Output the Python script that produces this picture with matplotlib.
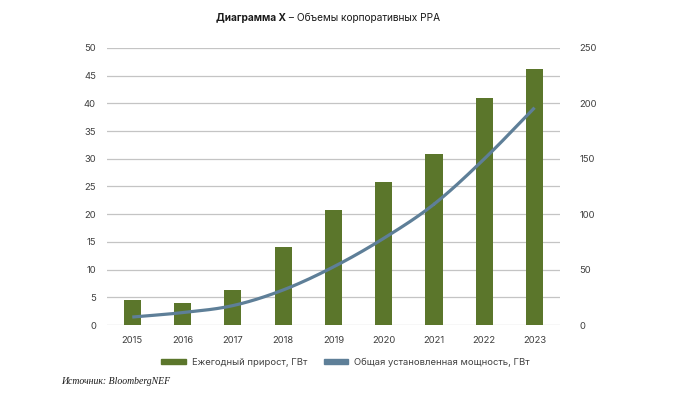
import numpy as np
import matplotlib.pyplot as plt
from matplotlib.patches import Patch

# data
years = ['2015', '2016', '2017', '2018', '2019', '2020', '2021', '2022', '2023']
annual = [4.5, 4.0, 6.3, 14.1, 20.8, 25.8, 30.8, 40.9, 46.2]
total = [7.2, 11.2, 17.5, 31.6, 52.4, 78.2, 109.0, 149.9, 196.1]

bar_color = '#5b762b'
line_color = '#5e7f98'
grid_color = '#c4c4c4'
text_color = '#404040'

plt.rcParams['font.family'] = ['Inter', 'DejaVu Sans']

fig = plt.figure(figsize=(6.91, 3.93), dpi=100)
ax = fig.add_axes([0.155, 0.173, 0.655, 0.705])
x = np.arange(len(years))
ax.bar(x, annual, width=0.34, color=bar_color, zorder=2)
ax.set_xlim(-0.5, len(years) - 0.5)
ax.set_ylim(0, 50)
ax.set_yticks(np.arange(0, 51, 5))
ax.set_xticks(x)
ax.set_xticklabels(years)
ax.grid(axis='y', color=grid_color, linewidth=0.9, zorder=0)
ax.set_axisbelow(True)
for s in ax.spines.values():
    s.set_visible(False)
ax.tick_params(length=0, labelsize=6.8, colors=text_color, pad=8)

# smooth line (Catmull-Rom through the points)
ax2 = ax.twinx()
P = np.vstack([np.array(x, dtype=float), np.array(total)]).T
P = np.vstack([2 * P[0] - P[1], P, 2 * P[-1] - P[-2]])
xs, ys = [], []
for i in range(1, len(P) - 2):
    t = np.linspace(0, 1, 20)[:, None]
    p0, p1, p2, p3 = P[i - 1], P[i], P[i + 1], P[i + 2]
    seg = 0.5 * ((2 * p1) + (-p0 + p2) * t + (2 * p0 - 5 * p1 + 4 * p2 - p3) * t ** 2
                 + (-p0 + 3 * p1 - 3 * p2 + p3) * t ** 3)
    xs.extend(seg[:, 0])
    ys.extend(seg[:, 1])
ax2.plot(xs, ys, color=line_color, linewidth=2.3, solid_capstyle='butt', zorder=3)
ax2.set_ylim(0, 250)
ax2.set_yticks(np.arange(0, 251, 50))
for s in ax2.spines.values():
    s.set_visible(False)
ax2.tick_params(length=0, labelsize=6.8, colors=text_color, pad=14)

# legend
handles = [Patch(color=bar_color, label='Ежегодный прирост, ГВт'),
           Patch(color=line_color, label='Общая установленная мощность, ГВт')]
fig.legend(handles=handles, loc='center', bbox_to_anchor=(0.5, 0.078), ncol=2,
           frameon=False, fontsize=6.8, handlelength=2.6, handleheight=0.45,
           handletextpad=0.6, columnspacing=1.8, labelcolor=text_color)

# title: bold part + regular part
fig.canvas.draw()
r = fig.canvas.get_renderer()
t1 = fig.text(0.312, 0.955, 'Диаграмма X', fontweight='bold', ha='left', va='center',
              fontsize=7.3, color='#1a1a1a')
bb = t1.get_window_extent(renderer=r)
fig.text(bb.x1 / fig.bbox.width, 0.955, ' – Объемы корпоративных PPA', ha='left',
         va='center', fontsize=7.3, color='#1a1a1a')
fig.text(0.088, 0.03, 'Источник: BloombergNEF', family='Liberation Serif', style='italic',
         fontsize=7, ha='left', va='center', color='#1a1a1a')

fig.savefig('out.png', dpi=100)
